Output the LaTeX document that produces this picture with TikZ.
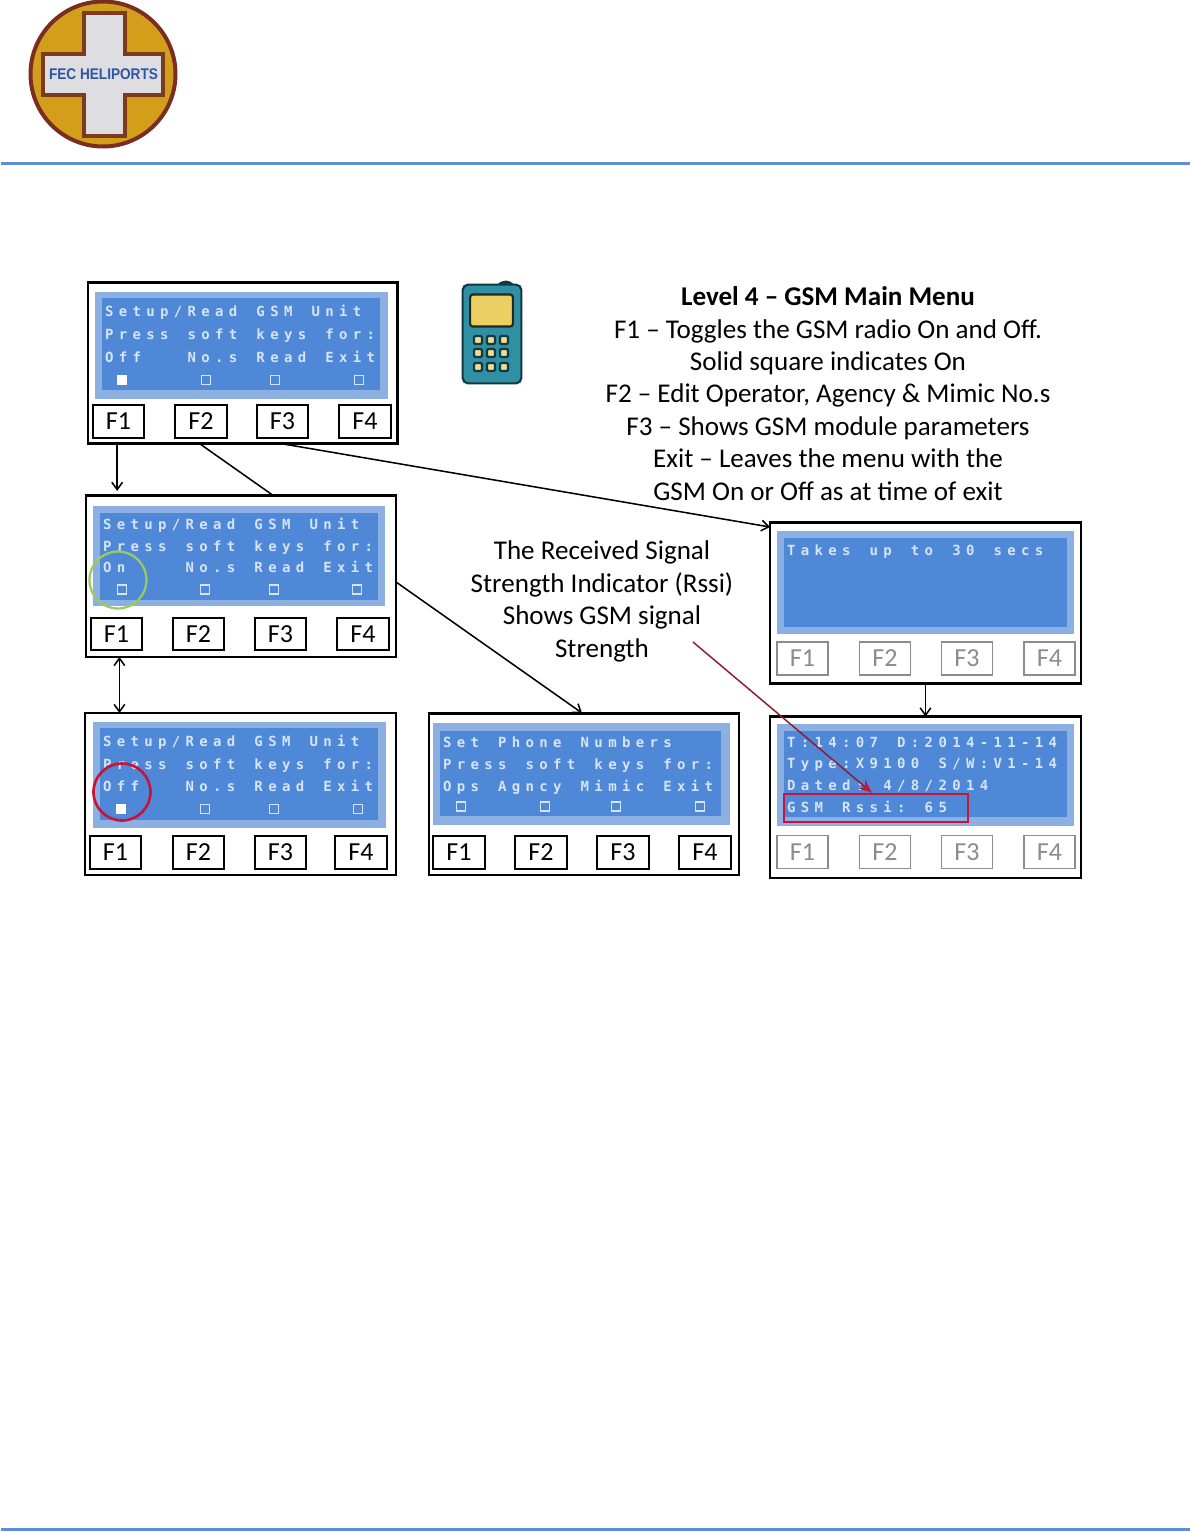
\documentclass[tikz,border=0pt]{standalone}
\usepackage{fontspec}
\usetikzlibrary{arrows.meta,calc,shadows}
\setmainfont{Carlito}
\newfontfamily\lcdfont{DejaVu Sans Mono}
\newfontfamily\logofont{Liberation Sans}
\definecolor{rulecol}{HTML}{5B8FD6}
\definecolor{scrband}{HTML}{8DB0E2}
\definecolor{scrin}{HTML}{4F88D6}
\definecolor{lcdtxt}{HTML}{D6E4F7}
\definecolor{greyk}{HTML}{8C8C8C}
\definecolor{arrowred}{HTML}{8E1B2E}
\definecolor{logoring}{HTML}{7A2E22}
\definecolor{logofill}{HTML}{D39F1A}
\definecolor{logocross}{HTML}{DEDDE2}
\definecolor{logoedge}{HTML}{7A3B1E}
\definecolor{logotxt}{HTML}{2F55A5}
\definecolor{phonebody}{HTML}{2F8FA3}
\definecolor{phoneedge}{HTML}{123A45}
\definecolor{phonescrc}{HTML}{EBCF62}
\definecolor{ongreen}{HTML}{9ACB60}
\definecolor{offred}{HTML}{C6143A}
\pgfdeclarelayer{under}
\pgfsetlayers{under,main}
\tikzset{
  x=0.75pt,y=-0.75pt,
  pframe/.style={draw=black,line width=1.6pt,fill=white,inner sep=0pt,outer sep=0pt},
  fkey/.style={draw=black,line width=1.5pt,fill=white,inner sep=0pt,outer sep=0pt,
     minimum width=38.5pt,minimum height=24.6pt,font=\fontsize{19.5}{21}\selectfont},
  fkeysh/.style={fkey,drop shadow={shadow xshift=0.8pt,shadow yshift=-0.8pt,opacity=.45,fill=black}},
  fkeygrey/.style={fkey,draw=greyk,text=greyk,line width=1.1pt,
     drop shadow={shadow xshift=0.6pt,shadow yshift=-0.8pt,opacity=.35,fill=black}},
  lcdline/.style={anchor=base west,inner sep=0pt,outer sep=0pt,text=lcdtxt,yshift=-0.5pt,
     font=\lcdfont\bfseries\fontsize{10.5}{11}\selectfont},
  chkbox/.style={draw=lcdtxt,line width=.9pt,fill=scrin,minimum width=7.2pt,minimum height=6.8pt,inner sep=0pt},
  chkfull/.style={chkbox,fill=white,draw=white},
  conn/.style={draw=black,line width=1.15pt,-{Straight Barb[length=5.5pt,width=8pt]}},
  conntwo/.style={draw=black,line width=1.15pt,{Straight Barb[length=5.5pt,width=8pt]}-{Straight Barb[length=5.5pt,width=8pt]}},
  doctext/.style={align=center,inner sep=0pt,font=\fontsize{20.3}{24.3}\selectfont},
  phonekey/.style={draw=phoneedge,line width=1.7pt,fill=#1,minimum size=6pt,inner sep=0pt,rounded corners=1pt},
}
\newcommand\panelbox[5]{\node[pframe,minimum width={(#4-#2)*0.75pt},minimum height={(#5-#3)*0.75pt}] (#1) at ({(#2+#4)/2},{(#3+#5)/2}) {};}
\newcommand\screenbox[8]{\fill[scrband] (#1,#2) rectangle (#3,#4);\fill[scrin] (#5,#6) rectangle (#7,#8);}
\newcommand\keyrow[7]{%
 \node[#2] (#1a) at (#4,#3) {F1};\node[#2] (#1b) at (#5,#3) {F2};
 \node[#2] (#1c) at (#6,#3) {F3};\node[#2] (#1d) at (#7,#3) {F4};}
\newcommand\chkrow[7]{%
 \node[#2] (#1w) at (#4,#3) {};\node[chkbox] (#1x) at (#5,#3) {};
 \node[chkbox] (#1y) at (#6,#3) {};\node[chkbox] (#1z) at (#7,#3) {};}
% fixed 20-column LCD grid: one box per character, ~ is a blank cell
\def\lcdgrid#1{\ifx#1\relax\else\hbox to10.33pt{#1\hss}\expandafter\lcdgrid\fi}
\newcommand\lcdrow[4]{\node[lcdline] (#1) at (#2,#3) {\lcdgrid#4\relax};}
\begin{document}
\begin{tikzpicture}
\useasboundingbox (0,0) rectangle (1190,1532);
\begin{pgfonlayer}{under}
\fill[white] (0,0) rectangle (1190,1532);
\end{pgfonlayer}
% rules
\draw[rulecol,line width=2pt] (1,163.5) -- (1190,163.5);
\draw[rulecol,line width=2pt] (1,1529.5) -- (1190,1529.5);
% logo
\draw[draw=logoring,line width=3pt,fill=logofill] (103,74) circle (72.5);
\draw[draw=logoedge,line width=2.6pt,fill=logocross,line join=miter]
  (84,13)--(125,13)--(125,54)--(163,54)--(163,95)--(125,95)--(125,136)--(84,136)--(84,95)--(43,95)--(43,54)--(84,54)--cycle;
\node[inner sep=0pt,text=logotxt,font=\logofont\bfseries\fontsize{11.6}{12}\selectfont,xscale=.88] (logotext) at (103.5,74.5) {FEC HELIPORTS};
% panel 1
\panelbox{p1}{88}{282.5}{397.5}{443.5}
\screenbox{94.5}{292}{387.5}{398.5}{102}{298}{380}{390}
\keyrow{p1k}{fkey}{421.5}{118.5}{201}{282.5}{365}
\lcdrow{p1a}{105}{315.5}{Setup/Read~GSM~Unit}
\lcdrow{p1b}{105}{338.5}{Press~soft~keys~for:}
\lcdrow{p1c}{105}{361.5}{Off~~~No.s~Read~Exit}
\chkrow{p1h}{chkfull}{380}{122}{206}{275}{359}
% panel 2
\panelbox{p2}{86}{495.5}{396}{657}
\screenbox{93}{506}{385}{606}{100}{513}{378}{600}
\keyrow{p2k}{fkeysh}{634}{116.5}{198.5}{280.5}{363}
\lcdrow{p2a}{103}{528.5}{Setup/Read~GSM~Unit}
\lcdrow{p2b}{103}{550.5}{Press~soft~keys~for:}
\lcdrow{p2c}{103}{571.5}{On~~~~No.s~Read~Exit}
\chkrow{p2h}{chkbox}{589.5}{122}{205}{274}{357}
% panel 3
\panelbox{p3}{85}{713}{396}{875}
\screenbox{93}{722}{386}{828}{100}{728}{378}{820}
\keyrow{p3k}{fkey}{852.5}{115.5}{198.5}{280.5}{361}
\lcdrow{p3a}{103}{745.5}{Setup/Read~GSM~Unit}
\lcdrow{p3b}{103}{768.5}{Press~soft~keys~for:}
\lcdrow{p3c}{103}{791}{Off~~~No.s~Read~Exit}
\chkrow{p3h}{chkfull}{809}{121}{205}{274}{358}
% panel 4
\panelbox{p4}{429}{713.5}{739}{875}
\screenbox{433}{723}{730}{825}{440}{731}{721}{816}
\keyrow{p4k}{fkey}{852.5}{459}{541}{623}{705}
\lcdrow{p4a}{443}{747}{Set~Phone~Numbers}
\lcdrow{p4b}{443}{768.5}{Press~soft~keys~for:}
\lcdrow{p4c}{443}{790.5}{Ops~Agncy~Mimic~Exit}
\chkrow{p4h}{chkbox}{806.5}{461}{545}{616}{700}
% panel 5
\panelbox{p5}{770}{522.5}{1081}{683.5}
\screenbox{777}{531}{1074}{634}{784}{538}{1067}{627}
\keyrow{p5k}{fkeygrey}{658.5}{802.5}{885}{967}{1049.5}
\lcdrow{p5a}{787}{554.5}{Takes~up~to~30~secs}
% panel 6
\panelbox{p6}{770}{716.5}{1081}{878}
\screenbox{777}{724}{1074}{826}{784}{731}{1067}{817}
\keyrow{p6k}{fkeygrey}{852}{802.5}{885}{967}{1049.5}
\lcdrow{p6a}{787}{746.5}{T:14:07~D:2014-11-14}
\lcdrow{p6b}{787}{767.5}{Type:X9100~S/W:V1-14}
\lcdrow{p6c}{787}{789.5}{Dated:~4/8/2014}
\lcdrow{p6d}{787}{811.5}{GSM~Rssi:~65}
% highlights
\draw[draw=ongreen,line width=1.7pt] (118,580) circle (28.5);
\draw[draw=offred,line width=2pt] (122,792) circle (28.5);
\node[draw=offred,line width=1.8pt,inner sep=0pt,minimum width=138pt,minimum height=21pt] (rssibox) at (876,808) {};
% phone
\fill[phoneedge] (497,285) .. controls (502,279) and (510,279) .. (514,285) -- cycle;
\node[draw=phoneedge,line width=1.6pt,fill=phonebody,rounded corners=4pt,minimum width=44pt,minimum height=74pt,inner sep=0pt] (phone) at (492,334) {};
\node[draw=black!85,line width=1.6pt,fill=phonescrc,rounded corners=2pt,minimum width=32pt,minimum height=24pt,inner sep=0pt] (phonescr) at (491.5,310.5) {};
\foreach \kx/\kn in {478/a,491/b,504/c}{\foreach \ky/\km in {340/a,353/b,367/c}{
  \node[phonekey=phonescrc!70!white] (key\kn\km) at (\kx,\ky) {};}}
% texts
\node[doctext] (maintext) at (828,393.5) {\textbf{Level 4 -- GSM Main Menu}\\F1 -- Toggles the GSM radio On and Off.\\Solid square indicates On\\F2 -- Edit Operator, Agency \& Mimic No.s\\F3 -- Shows GSM module parameters\\Exit -- Leaves the menu with the\\GSM On or Off as at time of exit};
\node[doctext] (rssitext) at (602,601.5) {The Received Signal\\Strength Indicator (Rssi)\\Shows GSM signal\\Strength};
\coordinate (redstart) at (693,642);
\coordinate (p4in) at (582,713);
\coordinate (p5in) at (770,527);
% connectors
\begin{pgfonlayer}{under}
\draw[draw=black,line width=1.15pt,-{Straight Barb[length=5.5pt,width=8pt]}] ([xshift=-1.2pt]p1kb |- p1.south) -- (p4in);
\end{pgfonlayer}
\draw[conn] ([xshift=-1pt]p1ka |- p1.south) -- ([xshift=-1pt,yshift=3.5pt]p1ka |- p2.north);
\draw[conn] ([xshift=-1.5pt]p1kc |- p1.south) -- (p5in);
\draw[conntwo] ([xshift=2.2pt]p2ka.center |- p2.south) -- ([xshift=2.2pt]p2ka.center |- p3.north);
\draw[conn] (p5.south) -- (p6.north);
\draw[draw=arrowred,line width=1.1pt,-{Stealth[length=10pt,width=8pt,color=offred]}] (redstart) -- ([xshift=-3pt]rssibox.north);
\end{tikzpicture}
\end{document}
